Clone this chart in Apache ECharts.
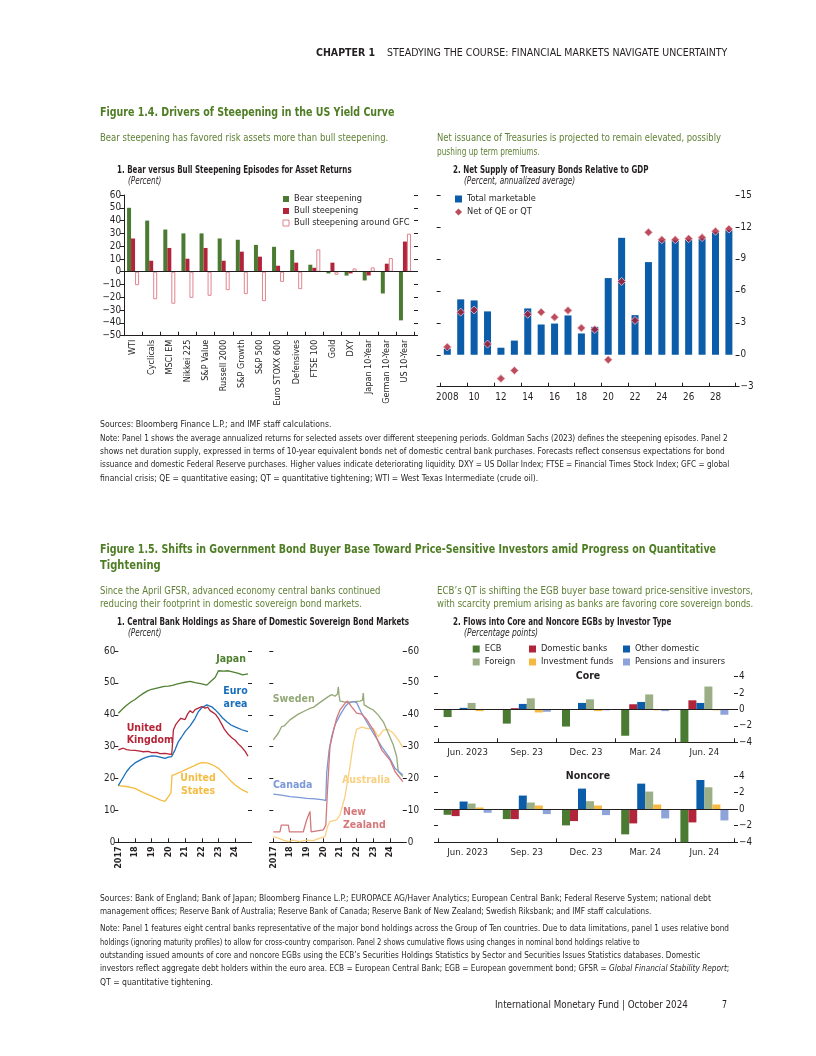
<!DOCTYPE html>
<html><head><meta charset="utf-8">
<script src="https://cdn.jsdelivr.net/npm/echarts@6/dist/echarts.min.js"></script>
<style>
html,body{margin:0;padding:0;background:#fff;}
#page{position:relative;width:816px;height:1056px;overflow:hidden;}
#chart{position:absolute;left:0;top:0;width:816px;height:1056px;}
.t{position:absolute;white-space:nowrap;line-height:1;transform-origin:0 50%;z-index:2;color:#231f20;
 font-family:"Liberation Sans Narrow","DejaVu Sans Condensed","Arial Narrow",sans-serif;}
.ft{color:#4e7d24;font-weight:bold;}
.sub{color:#5f8035;}
.pt{font-weight:bold;}
.it{font-style:italic;}
</style></head>
<body><div id="page"><div id="chart"></div></div>
<script>
// ---------- DATA ----------
const cats1 = ['WTI','Cyclicals','MSCI EM','Nikkei 225','S&P Value','Russell 2000','S&P Growth','S&P 500','Euro STOXX 600','Defensives','FTSE 100','Gold','DXY','Japan 10-Year','German 10-Year','US 10-Year'];
const bearSteep = [50,40,33,30,30,26,25,21,19.5,17,5.5,-1.3,-3,-6.8,-17,-38];
const bullSteep = [26,8.6,18.6,10.2,18.6,8.6,15.7,11.8,4.7,7.1,3.1,7.1,-1.3,-2.9,6.3,23.6];
const bullGFC   = [-10.5,-21.5,-25,-20.4,-18.8,-14.4,-17.5,-23,-7.9,-13.6,17.5,-2.4,2.6,3.4,10.7,29.8];

const years = ['2008','2009','2010','2011','2012','2013','2014','2015','2016','2017','2018','2019','2020','2021','2022','2023','2024','2025','2026','2027','2028','2029'];
const totalMarketable = [0.57,5.2,5.1,4.07,0.66,1.33,4.35,2.84,2.93,3.69,2.0,2.62,7.2,10.98,3.72,8.7,10.73,10.73,10.8,10.9,11.5,11.7];
const netOfQE = [0.73,4.0,4.2,1.0,-2.24,-1.48,3.8,4.0,3.53,4.16,2.52,2.37,-0.47,6.88,3.22,11.5,10.8,10.8,10.9,11.0,11.6,11.8];

const japan = [[2017.0,40.5],[2017.25,41.8],[2017.5,43],[2017.75,44],[2018.0,44.8],[2018.25,45.8],[2018.5,46.7],[2018.75,47.5],[2019.0,48],[2019.25,48.3],[2019.5,48.6],[2019.75,48.9],[2020.0,49],[2020.25,49.2],[2020.5,49.6],[2020.75,49.9],[2021.0,50.2],[2021.3,50.5],[2021.6,50.1],[2022.0,49.7],[2022.3,49.3],[2022.5,50.3],[2022.8,51.7],[2023.0,53.8],[2023.3,53.7],[2023.6,53.8],[2023.9,53.4],[2024.2,53],[2024.45,52.5],[2024.77,52.8]];
const unitedKingdom = [[2017.0,29],[2017.1,29.3],[2017.3,29.5],[2017.5,29.1],[2017.7,28.9],[2018.0,28.8],[2018.3,28.6],[2018.5,28.4],[2018.8,28.5],[2019.0,28.1],[2019.3,28.2],[2019.5,27.8],[2019.8,27.9],[2020.0,27.7],[2020.2,27.6],[2020.25,31],[2020.3,35.2],[2020.45,37],[2020.6,38],[2020.75,38.9],[2021.0,38.5],[2021.15,40.2],[2021.3,41.3],[2021.45,40.6],[2021.6,41.6],[2021.8,42.1],[2022.0,42.6],[2022.2,42.1],[2022.35,42.4],[2022.5,41.3],[2022.7,40.6],[2022.85,40],[2023.0,38.9],[2023.2,37],[2023.35,35.5],[2023.6,33.8],[2023.8,32.8],[2024.0,32],[2024.2,30.8],[2024.4,29.8],[2024.6,28.5],[2024.77,27]];
const euroArea = [[2017.0,17.8],[2017.25,20],[2017.5,22.2],[2017.75,23.8],[2018.0,24.9],[2018.25,25.6],[2018.5,26.3],[2018.75,26.8],[2019.0,27.1],[2019.25,27],[2019.5,26.7],[2019.8,26.3],[2020.0,26.7],[2020.2,26.9],[2020.4,29],[2020.6,31.6],[2020.8,33.1],[2021.0,34.7],[2021.3,36.5],[2021.6,38.9],[2021.8,41],[2022.0,42.2],[2022.3,43.1],[2022.6,42.5],[2022.8,41.6],[2023.0,40.5],[2023.25,39],[2023.5,37.8],[2023.75,36.8],[2024.0,36.2],[2024.4,35.3],[2024.77,34.7]];
const unitedStates = [[2017.0,17.8],[2017.5,17.5],[2018.0,16.9],[2018.5,15.6],[2019.0,14.5],[2019.5,13.3],[2019.8,12.8],[2020.0,14.3],[2020.15,15.4],[2020.22,21],[2020.4,21.3],[2020.6,21.8],[2020.8,22.2],[2021.0,22.7],[2021.5,23.9],[2021.8,24.7],[2022.0,25],[2022.3,24.9],[2022.5,24.6],[2022.75,24],[2023.0,23.2],[2023.25,22],[2023.5,20.6],[2023.75,19.2],[2024.0,18],[2024.4,16.5],[2024.77,15.6]];
const sweden = [[2017.0,32.1],[2017.3,34.2],[2017.5,36.3],[2017.65,36.5],[2018.0,38.4],[2018.5,40.2],[2019.0,41.5],[2019.2,42],[2019.3,42.6],[2019.4,42.3],[2019.6,43.1],[2020.0,44.6],[2020.3,45.7],[2020.5,46.3],[2020.7,45.8],[2020.85,46.5],[2020.9,48.8],[2020.95,46],[2021.0,44.3],[2021.4,43.9],[2021.8,44.1],[2022.2,44.3],[2022.35,44.6],[2022.4,46.8],[2022.45,43.1],[2022.8,42],[2023.0,41.5],[2023.3,39.9],[2023.6,37.8],[2023.9,34.2],[2024.2,30.5],[2024.4,26.9],[2024.5,22.2],[2024.77,20.6]];
const canada = [[2017.0,15.1],[2017.5,14.8],[2018.0,14.3],[2018.5,14.1],[2019.0,13.8],[2019.5,13.6],[2020.0,13.3],[2020.15,13.1],[2020.2,21.6],[2020.35,29],[2020.5,33.1],[2020.7,36.8],[2021.0,39.9],[2021.3,42.5],[2021.5,43.6],[2021.8,44.1],[2022.0,43.8],[2022.3,40.5],[2022.6,37.8],[2023.0,34.2],[2023.5,30],[2024.0,26.3],[2024.3,23.2],[2024.77,21.1]];
const newZealand = [[2017.0,3.3],[2017.4,3.3],[2017.48,5.4],[2017.9,5.4],[2017.97,3.3],[2018.8,3.3],[2019.0,7],[2019.2,9.7],[2019.27,3.3],[2020.0,3.9],[2020.15,5.4],[2020.25,16.4],[2020.4,30],[2020.6,34.7],[2020.8,38.9],[2021.0,41.5],[2021.3,43.6],[2021.45,44.3],[2021.7,42.5],[2022.0,40.5],[2022.3,40.2],[2022.6,38.6],[2023.0,35.2],[2023.5,29],[2024.0,25.8],[2024.3,22.2],[2024.77,19]];
const australia = [[2017.0,1.8],[2017.3,1.3],[2017.6,0.7],[2017.9,0.2],[2018.2,0.7],[2018.6,0.2],[2019.0,0.7],[2019.4,0.5],[2019.8,1.3],[2020.1,1.8],[2020.25,4.9],[2020.4,6.5],[2020.8,7],[2021.0,8.6],[2021.3,14.3],[2021.6,23.7],[2021.8,31],[2022.0,35.4],[2022.3,36.1],[2022.6,35.7],[2023.0,35.7],[2023.3,33.1],[2023.6,35.2],[2023.9,35.4],[2024.2,34.2],[2024.5,32.1],[2024.77,29.8]];

const quarters = ['Jun. 2023','Sep. 23','Dec. 23','Mar. 24','Jun. 24'];
const investorTypes = ['ECB','Domestic banks','Other domestic','Foreign','Investment funds','Pensions and insurers'];
const coreFlows = {
  'ECB':[-0.92,-1.72,-2.08,-3.2,-4.0],
  'Domestic banks':[0.02,0.16,0.03,0.64,1.12],
  'Other domestic':[0.2,0.68,0.8,0.92,0.8],
  'Foreign':[0.8,1.36,1.24,1.84,2.8],
  'Investment funds':[-0.2,-0.36,-0.2,-0.1,-0.1],
  'Pensions and insurers':[-0.05,-0.28,-0.1,-0.2,-0.64]
};
const noncoreFlows = {
  'ECB':[-0.68,-1.2,-1.96,-3.04,-4.0],
  'Domestic banks':[-0.84,-1.2,-1.44,-1.72,-1.6],
  'Other domestic':[0.92,1.64,2.48,3.08,3.52],
  'Foreign':[0.68,0.8,0.96,2.12,2.64],
  'Investment funds':[0.2,0.44,0.44,0.56,0.56],
  'Pensions and insurers':[-0.44,-0.6,-0.72,-1.12,-1.36]
};

// ---------- STYLE ----------
const FONT = '"Liberation Sans Narrow","DejaVu Sans Condensed","Arial Narrow",sans-serif';
const INK = '#231f20';
const GREEN = '#4b7a32', RED = '#b2243a', PINK = '#e0848f', BLUE = '#0b5ca9';
const invColors = {'ECB':GREEN,'Domestic banks':RED,'Other domestic':BLUE,'Foreign':'#9bae86','Investment funds':'#f5b940','Pensions and insurers':'#8ea3da'};
const lineCol = {japan:'#4f7f30',euro:'#1a6fba',uk:'#b52538',us:'#f5bc42',sweden:'#94a878',canada:'#7b98d8',australia:'#f8d080',nz:'#d4787a'};
const minus = v => String(v).replace('-', '\u2212');
const lineS = {color:INK,width:1};
const NUMFS = 9.8, CATFS = 9, LEGFS = 9.2;

function yAx(grid, min, max, interval, opts){
  return Object.assign({gridIndex:grid,type:'value',min:min,max:max,interval:interval,
    axisLine:{show:false,lineStyle:lineS},axisTick:{show:true,length:4,lineStyle:lineS},
    axisLabel:{show:false,color:INK,fontSize:NUMFS,fontFamily:FONT,margin:3,formatter:minus},
    splitLine:{show:false}}, opts||{});
}
const numLabel = (m) => ({show:true,color:INK,fontSize:NUMFS,fontFamily:FONT,margin:m,formatter:minus});

const grids = [
  {left:124,top:195,width:290,height:140.7},
  {left:440.6,top:195,width:295,height:191.7},
  {left:118.3,top:651,width:129.7,height:191.3},
  {left:273.3,top:651,width:129.5,height:191.3},
  {left:438,top:676.7,width:296,height:65.6},
  {left:438,top:776,width:296,height:66.3}
];

const yearFmt = v => Number.isInteger(v) ? (v===2017 ? '2017' : String(v).slice(2)) : '';
function timeAx(grid){
  return {gridIndex:grid,type:'value',min:2017,max:2024.77,interval:1,
    axisLine:{show:true,lineStyle:lineS},axisTick:{show:true,inside:true,length:4,lineStyle:lineS},
    axisLabel:{rotate:90,color:INK,fontSize:CATFS,fontFamily:FONT,fontWeight:'bold',margin:4,formatter:yearFmt,showMaxLabel:false},
    splitLine:{show:false}};
}
function qAx(grid){
  return {gridIndex:grid,type:'category',data:quarters,
    axisLine:{show:true,onZero:false,lineStyle:lineS},axisTick:{show:true,inside:true,length:4,lineStyle:lineS},
    axisLabel:{color:INK,fontSize:9.5,fontFamily:FONT,margin:5}};
}

const xAxis = [
  {gridIndex:0,type:'category',data:cats1,axisLine:{show:true,onZero:false,lineStyle:lineS},
   axisTick:{show:true,inside:true,length:4,lineStyle:lineS},
   axisLabel:{rotate:90,interval:0,color:INK,fontSize:CATFS,fontFamily:FONT,margin:4}},
  {gridIndex:1,type:'category',data:years,axisLine:{show:true,onZero:false,lineStyle:lineS},
   axisTick:{show:true,inside:true,length:4,interval:1,lineStyle:lineS},
   axisLabel:{interval:1,color:INK,fontSize:NUMFS,fontFamily:FONT,margin:6,formatter:(v,i)=> i===0 ? v : v.slice(2)}},
  timeAx(2), timeAx(3), qAx(4), qAx(5)
];

const yAxis = [
  yAx(0,-50,60,10,{position:'left',axisLine:{show:true,lineStyle:lineS},axisLabel:numLabel(3)}),
  yAx(0,-50,60,10,{position:'right'}),
  yAx(1,-3,15,3,{position:'left'}),
  yAx(1,-3,15,3,{position:'right',axisLabel:numLabel(5)}),
  yAx(2,0,60,10,{position:'left',axisLabel:numLabel(3)}),
  yAx(2,0,60,10,{position:'right'}),
  yAx(3,0,60,10,{position:'left'}),
  yAx(3,0,60,10,{position:'right',axisLabel:numLabel(5)}),
  yAx(4,-4,4,2,{position:'left'}),
  yAx(4,-4,4,2,{position:'right',axisLabel:numLabel(5)}),
  yAx(5,-4,4,2,{position:'left'}),
  yAx(5,-4,4,2,{position:'right',axisLabel:numLabel(5)})
];

const zeroLine = {silent:true,symbol:'none',label:{show:false},lineStyle:{color:INK,width:1,type:'solid'},data:[{yAxis:0}],animation:false};

const series = [
  {type:'bar',name:'Bear steepening',xAxisIndex:0,yAxisIndex:0,data:bearSteep,barWidth:4,barGap:'0%',itemStyle:{color:GREEN},markLine:zeroLine},
  {type:'bar',name:'Bull steepening',xAxisIndex:0,yAxisIndex:0,data:bullSteep,barWidth:4,barGap:'0%',itemStyle:{color:RED}},
  {type:'bar',name:'Bull steepening around GFC',xAxisIndex:0,yAxisIndex:0,data:bullGFC,barWidth:4,barGap:'0%',itemStyle:{color:'#ffffff',borderColor:PINK,borderWidth:1}},
  {type:'bar',name:'Total marketable',xAxisIndex:1,yAxisIndex:3,data:totalMarketable,barWidth:7,itemStyle:{color:BLUE}},
  {type:'scatter',name:'Net of QE or QT',xAxisIndex:1,yAxisIndex:3,data:netOfQE,symbol:'diamond',symbolSize:8,itemStyle:{color:'#aa1f36',borderColor:'#f3c6cc',borderWidth:1},z:5}
];
function addLine(name,data,color,xi,yi){
  series.push({type:'line',name:name,xAxisIndex:xi,yAxisIndex:yi,data:data,showSymbol:false,symbol:'none',
    lineStyle:{color:color,width:1.3},itemStyle:{color:color}});
}
addLine('Japan',japan,lineCol.japan,2,4);
addLine('United States',unitedStates,lineCol.us,2,4);
addLine('Euro area',euroArea,lineCol.euro,2,4);
addLine('United Kingdom',unitedKingdom,lineCol.uk,2,4);
addLine('Australia',australia,lineCol.australia,3,7);
addLine('Sweden',sweden,lineCol.sweden,3,7);
addLine('Canada',canada,lineCol.canada,3,7);
addLine('New Zealand',newZealand,lineCol.nz,3,7);

[[coreFlows,4,8],[noncoreFlows,5,10]].forEach(([flows,xi,yi])=>{
  investorTypes.forEach((k,i)=>{
    series.push({type:'bar',name:k,xAxisIndex:xi,yAxisIndex:yi,data:flows[k],barWidth:8,barGap:'0%',
      itemStyle:{color:invColors[k]},markLine: i===0 ? zeroLine : undefined});
  });
});

const legTxt = {color:INK,fontSize:LEGFS,fontFamily:FONT,lineHeight:12};
const legend = [
  {left:282.5,top:193,orient:'vertical',padding:0,itemGap:0,itemWidth:6,itemHeight:6,itemStyle:{borderWidth:1},icon:'rect',textStyle:legTxt,
   data:['Bear steepening','Bull steepening','Bull steepening around GFC'],selectedMode:false},
  {left:455,top:193,orient:'vertical',padding:0,itemGap:1,itemWidth:7,itemHeight:7,textStyle:legTxt,
   itemStyle:{borderWidth:0},
   data:[{name:'Total marketable',icon:'rect'},{name:'Net of QE or QT',icon:'diamond',itemStyle:{color:'#aa1f36',borderWidth:0}}],selectedMode:false},
  {left:472.7,top:643,orient:'vertical',padding:0,itemGap:1,itemWidth:7,itemHeight:7,icon:'rect',textStyle:legTxt,data:['ECB','Foreign'],selectedMode:false},
  {left:529,top:643,orient:'vertical',padding:0,itemGap:1,itemWidth:7,itemHeight:7,icon:'rect',textStyle:legTxt,data:['Domestic banks','Investment funds'],selectedMode:false},
  {left:623,top:643,orient:'vertical',padding:0,itemGap:1,itemWidth:7,itemHeight:7,icon:'rect',textStyle:legTxt,data:['Other domestic','Pensions and insurers'],selectedMode:false}
];

function lbl(text,x,y,color,align){
  return {type:'text',x:x,y:y,silent:true,style:{text:text,fill:color,font:'bold 10.5px '+FONT,align:align||'center',verticalAlign:'middle',lineHeight:12.5}};
}
const graphic = [
  lbl('Japan',231,659,lineCol.japan),
  lbl('Euro\narea',235.5,698,lineCol.euro),
  lbl('United\nKingdom',126.7,734.5,lineCol.uk,'left'),
  lbl('United\nStates',198,785,lineCol.us),
  lbl('Sweden',293.7,699,lineCol.sweden),
  lbl('Canada',292.7,785.7,lineCol.canada),
  lbl('Australia',366,780.7,lineCol.australia),
  lbl('New\nZealand',343,819,lineCol.nz,'left'),
  {type:'text',x:588,y:676,silent:true,style:{text:'Core',fill:INK,font:'bold 10.5px '+FONT,align:'center',verticalAlign:'middle'}},
  {type:'text',x:588,y:776,silent:true,style:{text:'Noncore',fill:INK,font:'bold 10.5px '+FONT,align:'center',verticalAlign:'middle'}}
];

const chart = echarts.init(document.getElementById('chart'),null,{renderer:'canvas'});
chart.setOption({animation:false,textStyle:{fontFamily:FONT,color:INK},grid:grids,xAxis:xAxis,yAxis:yAxis,series:series,legend:legend,graphic:graphic});

// ---------- PAGE TEXT ----------
const TEXTS = [
  {x:316,y:52,w:411,fs:10.5,c:'',h:'<b>CHAPTER 1</b>&nbsp;&nbsp;&nbsp;&nbsp;STEADYING THE COURSE: FINANCIAL MARKETS NAVIGATE UNCERTAINTY'},
  {x:100,y:111,w:294,fs:13,c:'ft',h:'Figure 1.4. Drivers of Steepening in the US Yield Curve'},
  {x:100,y:137,w:288,fs:11,c:'sub',h:'Bear steepening has favored risk assets more than bull steepening.'},
  {x:437,y:137,w:284,fs:11,c:'sub',h:'Net issuance of Treasuries is projected to remain elevated, possibly'},
  {x:437,y:151,w:103,fs:11,c:'sub',h:'pushing up term premiums.'},
  {x:117,y:169,w:235,fs:10.5,c:'pt',h:'1. Bear versus Bull Steepening Episodes for Asset Returns'},
  {x:128,y:181,w:33,fs:10,c:'it',h:'(Percent)'},
  {x:452.7,y:169,w:195.3,fs:10.5,c:'pt',h:'2. Net Supply of Treasury Bonds Relative to GDP'},
  {x:463.7,y:181,w:111.3,fs:10,c:'it',h:'(Percent, annualized average)'},
  {x:100,y:424,w:231,fs:9.3,c:'',h:'Sources: Bloomberg Finance L.P.; and IMF staff calculations.'},
  {x:100,y:437.5,w:628,fs:9.3,c:'',h:'Note: Panel 1 shows the average annualized returns for selected assets over different steepening periods. Goldman Sachs (2023) defines the steepening episodes. Panel 2'},
  {x:100,y:450.8,w:625,fs:9.3,c:'',h:'shows net duration supply, expressed in terms of 10-year equivalent bonds net of domestic central bank purchases. Forecasts reflect consensus expectations for bond'},
  {x:100,y:464,w:629,fs:9.3,c:'',h:'issuance and domestic Federal Reserve purchases. Higher values indicate deteriorating liquidity. DXY = US Dollar Index; FTSE = Financial Times Stock Index; GFC = global'},
  {x:100,y:477.2,w:438,fs:9.3,c:'',h:'financial crisis; QE = quantitative easing; QT = quantitative tightening; WTI = West Texas Intermediate (crude oil).'},
  {x:100,y:548,w:616,fs:13,c:'ft',h:'Figure 1.5. Shifts in Government Bond Buyer Base Toward Price-Sensitive Investors amid Progress on Quantitative'},
  {x:100,y:564,w:60.5,fs:13,c:'ft',h:'Tightening'},
  {x:100,y:590,w:280,fs:11,c:'sub',h:'Since the April GFSR, advanced economy central banks continued'},
  {x:100,y:603,w:262,fs:11,c:'sub',h:'reducing their footprint in domestic sovereign bond markets.'},
  {x:437,y:590,w:316,fs:11,c:'sub',h:'ECB\u2019s QT is shifting the EGB buyer base toward price-sensitive investors,'},
  {x:437,y:603,w:316,fs:11,c:'sub',h:'with scarcity premium arising as banks are favoring core sovereign bonds.'},
  {x:117,y:621,w:292,fs:10.5,c:'pt',h:'1. Central Bank Holdings as Share of Domestic Sovereign Bond Markets'},
  {x:128,y:633,w:33,fs:10,c:'it',h:'(Percent)'},
  {x:452.7,y:621,w:218,fs:10.5,c:'pt',h:'2. Flows into Core and Noncore EGBs by Investor Type'},
  {x:463.7,y:633,w:74.3,fs:10,c:'it',h:'(Percentage points)'},
  {x:100,y:898,w:611,fs:9.3,c:'',h:'Sources: Bank of England; Bank of Japan; Bloomberg Finance L.P.; EUROPACE AG/Haver Analytics; European Central Bank; Federal Reserve System; national debt'},
  {x:100,y:911,w:551,fs:9.3,c:'',h:'management offices; Reserve Bank of Australia; Reserve Bank of Canada; Reserve Bank of New Zealand; Swedish Riksbank; and IMF staff calculations.'},
  {x:100,y:928,w:629,fs:9.3,c:'',h:'Note: Panel 1 features eight central banks representative of the major bond holdings across the Group of Ten countries. Due to data limitations, panel 1 uses relative bond'},
  {x:100,y:941.3,w:540,fs:9.3,c:'',h:'holdings (ignoring maturity profiles) to allow for cross-country comparison. Panel 2 shows cumulative flows using changes in nominal bond holdings relative to'},
  {x:100,y:954.6,w:600,fs:9.3,c:'',h:'outstanding issued amounts of core and noncore EGBs using the ECB\u2019s Securities Holdings Statistics by Sector and Securities Issues Statistics databases. Domestic'},
  {x:100,y:967.9,w:629,fs:9.3,c:'',h:'investors reflect aggregate debt holders within the euro area. ECB = European Central Bank; EGB = European government bond; GFSR = <i>Global Financial Stability Report</i>;'},
  {x:100,y:981.2,w:113,fs:9.3,c:'',h:'QT = quantitative tightening.'},
  {x:495,y:1004,w:193,fs:10.5,c:'',h:'International Monetary Fund | October 2024'},
  {x:722,y:1004,w:5,fs:10.5,c:'',h:'7'}
];
const page = document.getElementById('page');
TEXTS.forEach(t=>{
  const d = document.createElement('div');
  d.className = 't ' + t.c;
  d.style.left = t.x + 'px';
  d.style.fontSize = t.fs + 'px';
  d.style.top = (t.y - t.fs/2) + 'px';
  d.style.height = t.fs + 'px';
  d.innerHTML = t.h;
  page.appendChild(d);
  const nat = d.scrollWidth;
  if (nat > 0) d.style.transform = 'scaleX(' + (t.w / nat).toFixed(4) + ')';
});
</script></body></html>
